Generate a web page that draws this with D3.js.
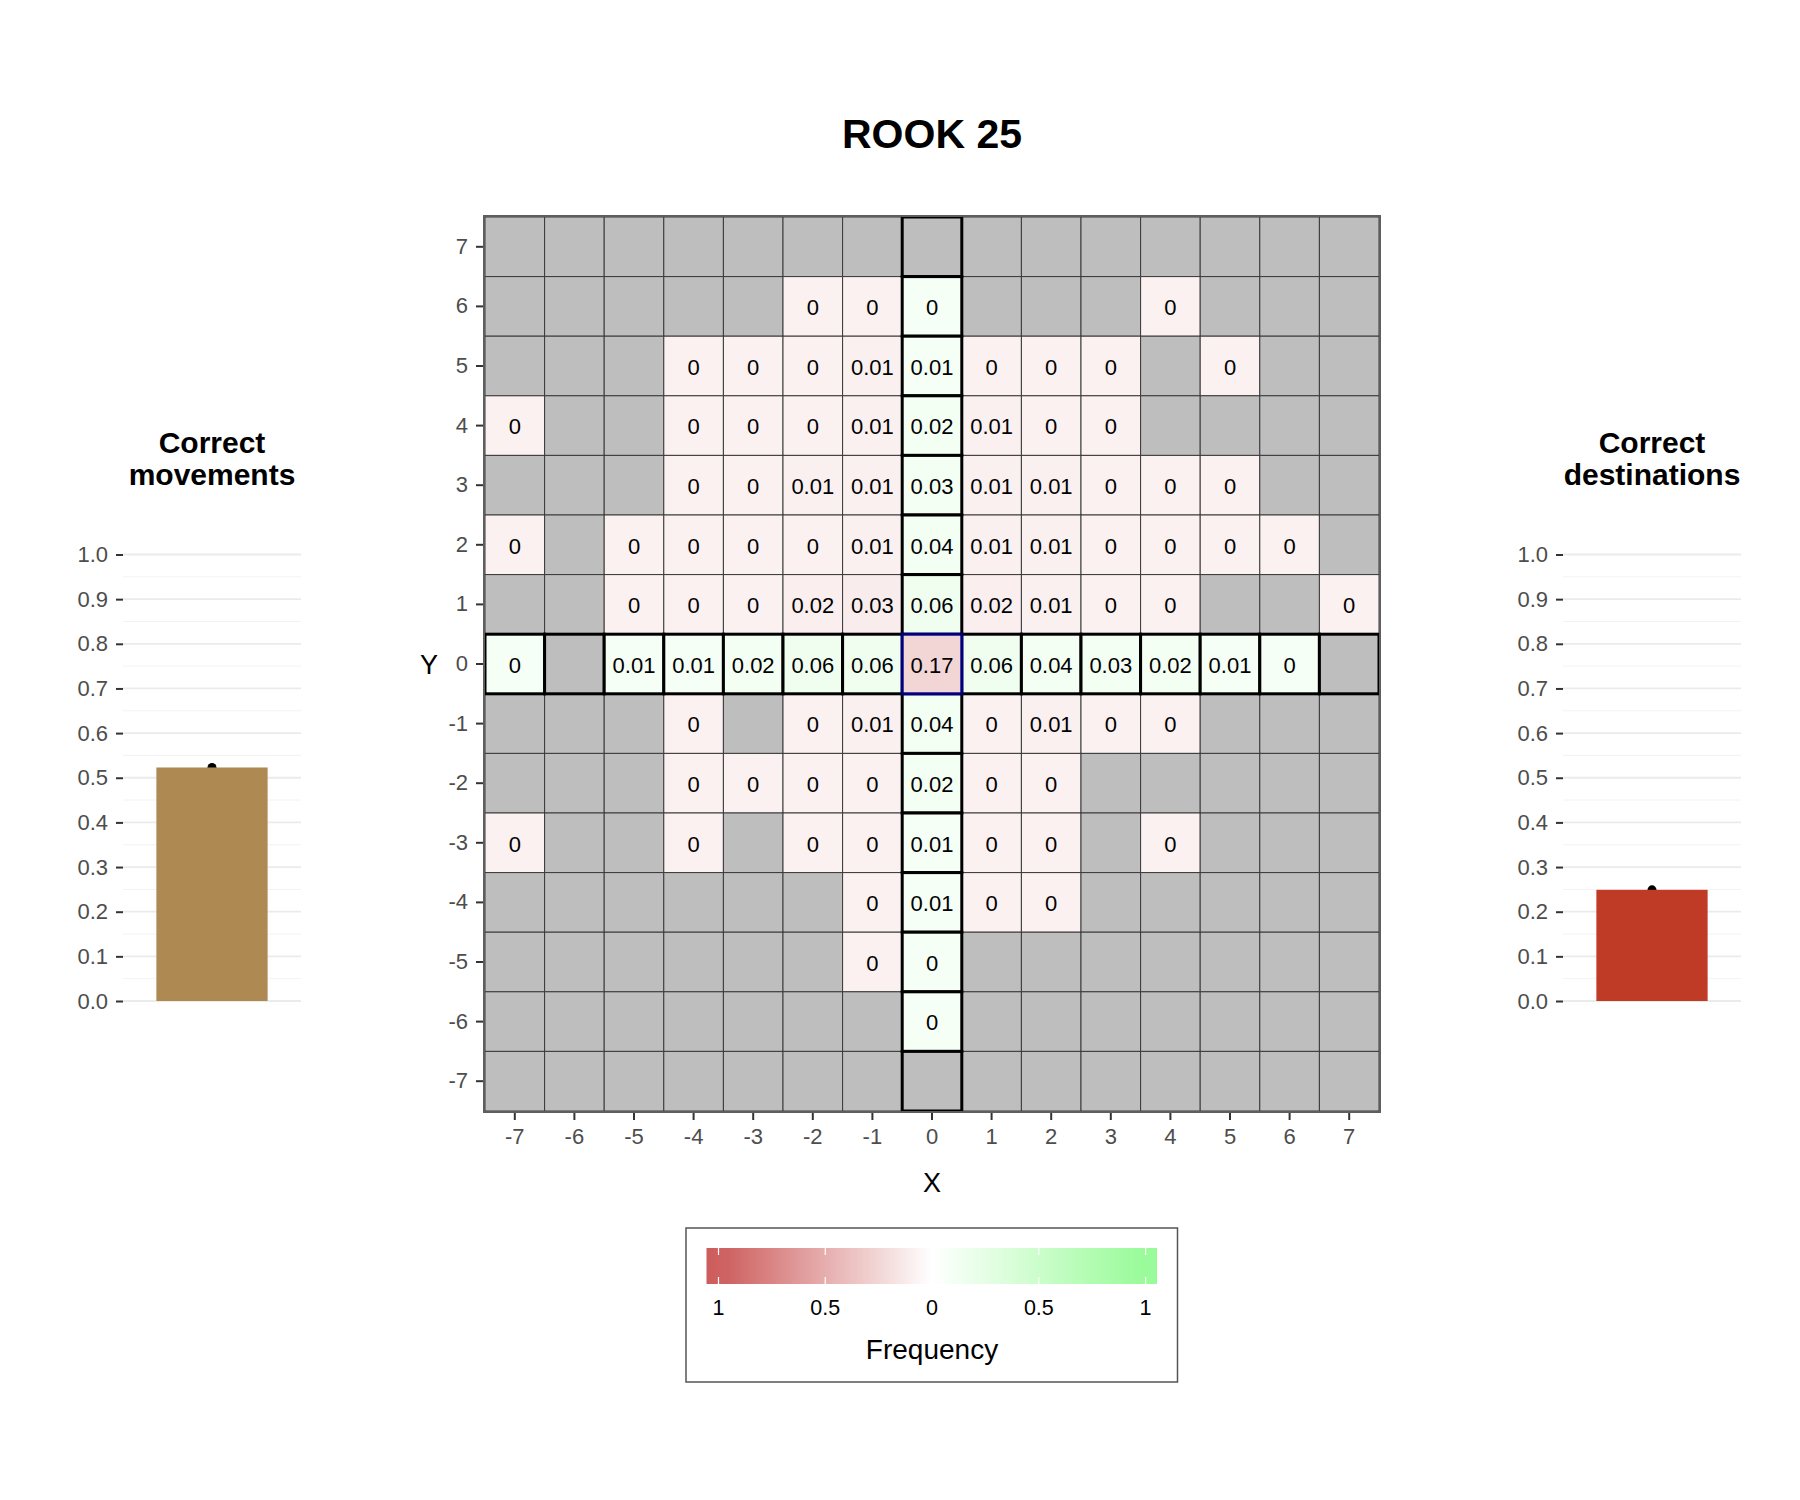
<!DOCTYPE html>
<html>
<head>
<meta charset="utf-8">
<script src="https://cdn.jsdelivr.net/npm/d3@7"></script>
<style>
  html, body { margin: 0; padding: 0; background: #fff; }
  svg { display: block; font-family: "Liberation Sans", Arial, Helvetica, sans-serif; }
</style>
</head>
<body>
<svg id="chart" width="1800" height="1500"></svg>
<script>
// ---------------- DATA ----------------
const chartTitle = "ROOK 25";
const xCats = [-7, -6, -5, -4, -3, -2, -1, 0, 1, 2, 3, 4, 5, 6, 7];
const yCats = [7, 6, 5, 4, 3, 2, 1, 0, -1, -2, -3, -4, -5, -6, -7];
const n = null;
// Frequencies by row (Y), columns X = -7 .. 7 ; null = square never reached
const rowP7 = [n, n, n, n, n, n, n, n, n, n, n, n, n, n, n];
const rowP6 = [n, n, n, n, n, 0, 0, 0, n, n, n, 0, n, n, n];
const rowP5 = [n, n, n, 0, 0, 0, 0.01, 0.01, 0, 0, 0, n, 0, n, n];
const rowP4 = [0, n, n, 0, 0, 0, 0.01, 0.02, 0.01, 0, 0, n, n, n, n];
const rowP3 = [n, n, n, 0, 0, 0.01, 0.01, 0.03, 0.01, 0.01, 0, 0, 0, n, n];
const rowP2 = [0, n, 0, 0, 0, 0, 0.01, 0.04, 0.01, 0.01, 0, 0, 0, 0, n];
const rowP1 = [n, n, 0, 0, 0, 0.02, 0.03, 0.06, 0.02, 0.01, 0, 0, n, n, 0];
const row0  = [0, n, 0.01, 0.01, 0.02, 0.06, 0.06, 0.17, 0.06, 0.04, 0.03, 0.02, 0.01, 0, n];
const rowM1 = [n, n, n, 0, n, 0, 0.01, 0.04, 0, 0.01, 0, 0, n, n, n];
const rowM2 = [n, n, n, 0, 0, 0, 0, 0.02, 0, 0, n, n, n, n, n];
const rowM3 = [0, n, n, 0, n, 0, 0, 0.01, 0, 0, n, 0, n, n, n];
const rowM4 = [n, n, n, n, n, n, 0, 0.01, 0, 0, n, n, n, n, n];
const rowM5 = [n, n, n, n, n, n, 0, 0, n, n, n, n, n, n, n];
const rowM6 = [n, n, n, n, n, n, n, 0, n, n, n, n, n, n, n];
const rowM7 = [n, n, n, n, n, n, n, n, n, n, n, n, n, n, n];
const freqRows = [rowP7, rowP6, rowP5, rowP4, rowP3, rowP2, rowP1, row0,
                  rowM1, rowM2, rowM3, rowM4, rowM5, rowM6, rowM7];

const barMovementsValue = 0.523;
const barDestinationsValue = 0.249;
const barTicks = [0, 0.1, 0.2, 0.3, 0.4, 0.5, 0.6, 0.7, 0.8, 0.9, 1.0];
const legendTicks = [-1, -0.5, 0, 0.5, 1];

// ---------------- SETUP ----------------
const svg = d3.select("#chart");
svg.append("rect").attr("width", 1800).attr("height", 1500).attr("fill", "#fff");

const FONT_TICK = 22;
const TICK_COL = "#4d4d4d";

const colorScale = d3.scaleLinear().domain([-1, 0, 1])
  .range(["#CD5C5C", "#FFFFFF", "#98FB98"]).interpolate(d3.interpolateRgb);
const TINT = 0.085; // visual offset so that near-zero squares stay tinted

// Title
svg.append("text").attr("x", 932).attr("y", 148).attr("text-anchor", "middle")
  .attr("font-size", 41).attr("font-weight", "bold").attr("fill", "#000").text(chartTitle);

// ---------------- HEATMAP ----------------
const x = d3.scaleBand().domain(xCats).range([485, 1379]);
const y = d3.scaleBand().domain(yCats).range([217, 1111]);

const cells = [];
freqRows.forEach((row, ri) => {
  row.forEach((v, ci) => {
    const cx = xCats[ci], cy = yCats[ri];
    cells.push({ x: cx, y: cy, v: v,
      start: cx === 0 && cy === 0,
      path: (cx === 0 || cy === 0) && !(cx === 0 && cy === 0) });
  });
});

function fillOf(d) {
  if (d.v === null) return "#BEBEBE";
  const sign = d.path ? 1 : -1;
  return colorScale(sign * Math.min(1, d.v + TINT));
}

const gHeat = svg.append("g");
gHeat.append("rect").attr("x", 485).attr("y", 217).attr("width", 894).attr("height", 894)
  .attr("fill", "#BEBEBE");

const order = c => (c.start ? 2 : c.path ? 1 : 0);
const sorted = cells.slice().sort((a, b) => order(a) - order(b));

gHeat.selectAll("rect.cell").data(sorted).join("rect").attr("class", "cell")
  .attr("x", d => x(d.x)).attr("y", d => y(d.y))
  .attr("width", x.bandwidth()).attr("height", y.bandwidth())
  .attr("fill", fillOf)
  .attr("stroke", d => d.start ? "#000080" : d.path ? "#000" : "#3a3a3a")
  .attr("stroke-width", d => (d.start || d.path) ? 3 : 1);

gHeat.selectAll("text.lbl").data(cells.filter(d => d.v !== null)).join("text").attr("class", "lbl")
  .attr("x", d => x(d.x) + x.bandwidth() / 2)
  .attr("y", d => y(d.y) + y.bandwidth() / 2)
  .attr("dy", "0.4em").attr("text-anchor", "middle")
  .attr("font-size", FONT_TICK).attr("fill", "#000")
  .text(d => String(d.v));

gHeat.append("rect").attr("x", 484).attr("y", 216).attr("width", 896).attr("height", 896)
  .attr("fill", "none").attr("stroke", "#5e5e5e").attr("stroke-width", 2);

function styleAxis(g) {
  g.select(".domain").remove();
  g.selectAll(".tick line").attr("stroke", "#333").attr("stroke-width", 2);
  g.selectAll(".tick text").attr("fill", TICK_COL).attr("font-size", FONT_TICK)
    .attr("font-family", "Liberation Sans, Arial, sans-serif");
}

svg.append("g").attr("transform", "translate(483,0)")
  .call(d3.axisLeft(y).tickSize(7).tickPadding(8)).call(styleAxis);
svg.append("g").attr("transform", "translate(0,1113)")
  .call(d3.axisBottom(x).tickSize(7).tickPadding(8)).call(styleAxis);

svg.append("text").attr("x", 932).attr("y", 1192).attr("text-anchor", "middle")
  .attr("font-size", 27).attr("fill", "#000").text("X");
svg.append("text").attr("x", 429).attr("y", y(0) + y.bandwidth() / 2).attr("dy", "0.38em")
  .attr("text-anchor", "middle").attr("font-size", 27).attr("fill", "#000").text("Y");

// ---------------- BAR CHARTS ----------------
const yb = d3.scaleLinear().domain([0, 1]).range([1001, 554.5]);

function drawBar(x0, x1, key, value, color, lines) {
  const g = svg.append("g");
  const xb = d3.scaleBand().domain([key]).range([x0, x1]).paddingInner(0).paddingOuter(0.3);
  const cx = (x0 + x1) / 2;
  const t = g.append("text").attr("text-anchor", "middle").attr("font-size", 30)
    .attr("font-weight", "bold").attr("fill", "#000");
  lines.forEach((ln, i) => t.append("tspan").attr("x", cx).attr("y", 453 + i * 32).text(ln));
  const minor = d3.range(0.05, 1, 0.1);
  g.selectAll("line.minor").data(minor).join("line")
    .attr("x1", x0).attr("x2", x1).attr("y1", d => yb(d)).attr("y2", d => yb(d))
    .attr("stroke", "#f2f2f2").attr("stroke-width", 1);
  g.selectAll("line.major").data(barTicks).join("line")
    .attr("x1", x0).attr("x2", x1).attr("y1", d => yb(d)).attr("y2", d => yb(d))
    .attr("stroke", "#ebebeb").attr("stroke-width", 1.8);
  g.append("circle").attr("cx", xb(key) + xb.bandwidth() / 2).attr("cy", yb(value))
    .attr("r", 4.5).attr("fill", "#000");
  g.append("rect").attr("x", xb(key)).attr("y", yb(value))
    .attr("width", xb.bandwidth()).attr("height", yb(0) - yb(value)).attr("fill", color);
  svg.append("g").attr("transform", `translate(${x0},0)`)
    .call(d3.axisLeft(yb).tickValues(barTicks).tickFormat(d3.format(".1f")).tickSize(7).tickPadding(8))
    .call(styleAxis);
}

drawBar(123, 301, "movements", barMovementsValue, "#AE8A52", ["Correct", "movements"]);
drawBar(1563, 1741, "destinations", barDestinationsValue, "#C03B26", ["Correct", "destinations"]);

// ---------------- LEGEND ----------------
const lx = d3.scaleLinear().domain([-1, 1]).range([718.5, 1145.6]);
const barX0 = 706.5, barX1 = 1157, barY0 = 1248, barY1 = 1284;
svg.append("rect").attr("x", 686).attr("y", 1228).attr("width", 491.5).attr("height", 154)
  .attr("fill", "#fff").attr("stroke", "#555").attr("stroke-width", 1.5);

const defs = svg.append("defs");
const grad = defs.append("linearGradient").attr("id", "freqGrad")
  .attr("gradientUnits", "userSpaceOnUse").attr("x1", barX0).attr("x2", barX1).attr("y1", 0).attr("y2", 0);
d3.range(0, 1.0001, 0.05).forEach(f => {
  const px = barX0 + f * (barX1 - barX0);
  const v = Math.max(-1, Math.min(1, lx.invert(px)));
  grad.append("stop").attr("offset", f).attr("stop-color", colorScale(v));
});
svg.append("rect").attr("x", barX0).attr("y", barY0).attr("width", barX1 - barX0)
  .attr("height", barY1 - barY0).attr("fill", "url(#freqGrad)");
const gl = svg.append("g");
legendTicks.forEach(t => {
  gl.append("line").attr("x1", lx(t)).attr("x2", lx(t)).attr("y1", barY0).attr("y2", barY0 + 7)
    .attr("stroke", "#fff").attr("stroke-width", 1.2);
  gl.append("line").attr("x1", lx(t)).attr("x2", lx(t)).attr("y1", barY1 - 7).attr("y2", barY1)
    .attr("stroke", "#fff").attr("stroke-width", 1.2);
  gl.append("text").attr("x", lx(t)).attr("y", 1315).attr("text-anchor", "middle")
    .attr("font-size", 21.5).attr("fill", "#000").text(String(Math.abs(t)));
});
svg.append("text").attr("x", 932).attr("y", 1359).attr("text-anchor", "middle")
  .attr("font-size", 28).attr("fill", "#000").text("Frequency");
</script>
</body>
</html>
